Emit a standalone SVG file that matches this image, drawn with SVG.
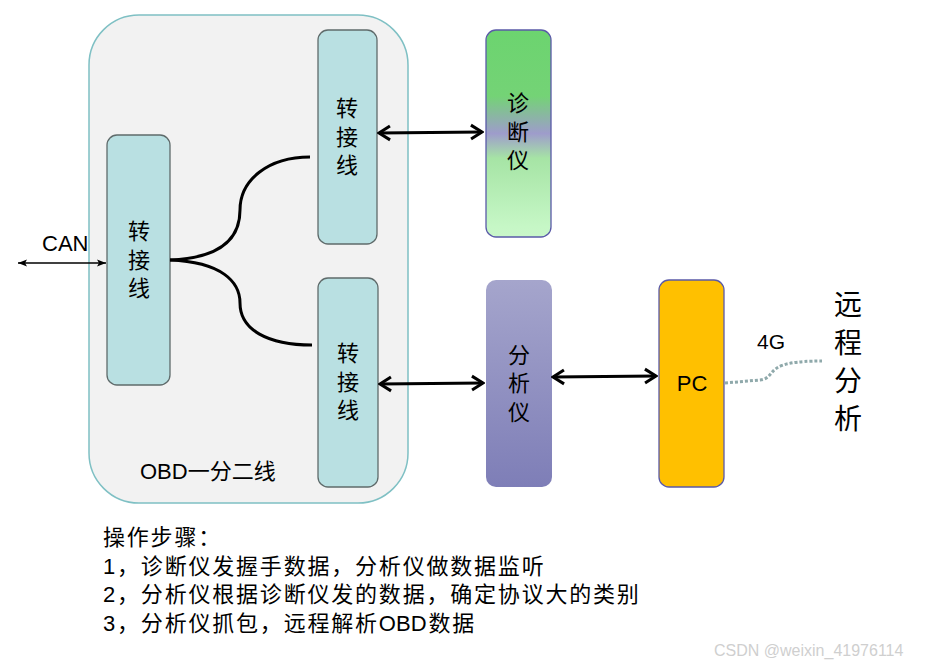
<svg xmlns="http://www.w3.org/2000/svg" width="927" height="666" viewBox="0 0 927 666">
<style>
.cjk{font-family:"Noto Sans CJK SC","Liberation Sans",sans-serif;fill:#000}
.lat{font-family:"Liberation Sans","Noto Sans CJK SC",sans-serif;fill:#000}
.conn{fill:none;stroke:#000;stroke-width:3}
.adapter{fill:#b9e0e2;stroke:#5f6b6b;stroke-width:1.3}
</style>
<defs>
<linearGradient id="gDiag" x1="0" y1="0" x2="0" y2="1">
<stop offset="0" stop-color="#6cd46f"/>
<stop offset="0.32" stop-color="#74d376"/>
<stop offset="0.5" stop-color="#9e9ccb"/>
<stop offset="0.62" stop-color="#a6e4a5"/>
<stop offset="0.95" stop-color="#c6f7c6"/>
<stop offset="1" stop-color="#c9f6c9"/>
</linearGradient>
<linearGradient id="gAna" x1="0" y1="0" x2="0" y2="1">
<stop offset="0" stop-color="#a5a5cc"/>
<stop offset="1" stop-color="#7e7eb7"/>
</linearGradient>
<marker id="chev" markerUnits="userSpaceOnUse" markerWidth="16" markerHeight="18" viewBox="0 0 16 18" refX="14" refY="9" orient="auto-start-reverse">
<path d="M3,2 L14,9 L3,16" fill="none" stroke="#000" stroke-width="3"/>
</marker>
<marker id="tri" markerUnits="userSpaceOnUse" markerWidth="10" markerHeight="8" viewBox="0 0 10 8" refX="9" refY="4" orient="auto-start-reverse">
<path d="M0,0.5 L9,4 L0,7.5 L2,4 Z" fill="#000"/>
</marker>
</defs>
<rect width="927" height="666" fill="#fff"/>

<g id="obd-splitter">
<rect x="89" y="15" width="319" height="488" rx="50" ry="50" fill="#f2f2f2" stroke="#7fc0c4" stroke-width="1.5"/>
<text class="lat" x="140" y="479" font-size="22">OBD<tspan class="cjk">一分二线</tspan></text>
</g>

<g id="adapter-main">
<rect class="adapter" x="107" y="135" width="63" height="250" rx="10"/>
<text class="cjk" font-size="22" text-anchor="middle"><tspan x="139" y="239">转</tspan><tspan x="139" y="268">接</tspan><tspan x="139" y="296">线</tspan></text>
</g>

<g id="adapter-top">
<rect class="adapter" x="318" y="30" width="59" height="214" rx="10"/>
<text class="cjk" font-size="22" text-anchor="middle"><tspan x="347" y="116">转</tspan><tspan x="347" y="145">接</tspan><tspan x="347" y="173">线</tspan></text>
</g>

<g id="adapter-bottom">
<rect class="adapter" x="318" y="278" width="60" height="209" rx="10"/>
<text class="cjk" font-size="22" text-anchor="middle"><tspan x="348" y="361">转</tspan><tspan x="348" y="390">接</tspan><tspan x="348" y="418">线</tspan></text>
</g>

<g id="diagnostic">
<rect x="486" y="30" width="65" height="207" rx="10" fill="url(#gDiag)" stroke="#5a5aa8" stroke-width="1.3"/>
<text class="cjk" font-size="22" text-anchor="middle"><tspan x="518" y="111">诊</tspan><tspan x="518" y="140">断</tspan><tspan x="518" y="168">仪</tspan></text>
</g>

<g id="analyzer">
<rect x="486" y="280" width="66" height="207" rx="10" fill="url(#gAna)"/>
<text class="cjk" font-size="22" text-anchor="middle"><tspan x="519" y="363">分</tspan><tspan x="519" y="391">析</tspan><tspan x="519" y="420">仪</tspan></text>
</g>

<g id="pc">
<rect x="659" y="280" width="65" height="207" rx="10" fill="#ffc000" stroke="#5a5aa8" stroke-width="1.3"/>
<text class="lat" x="692" y="391" font-size="22" text-anchor="middle">PC</text>
</g>

<g id="remote">
<text class="cjk" font-size="28" text-anchor="middle"><tspan x="848" y="315">远</tspan><tspan x="848" y="353">程</tspan><tspan x="848" y="391">分</tspan><tspan x="848" y="429">析</tspan></text>
</g>

<g id="connectors">
<line x1="18" y1="263" x2="106" y2="263" stroke="#000" stroke-width="1.5" marker-start="url(#tri)" marker-end="url(#tri)"/>
<text class="lat" x="42" y="251" font-size="22">CAN</text>
<path class="conn" d="M170,260 C222,258 240,238 240,210 C240,180 268,157 310,157"/>
<path class="conn" d="M170,260 C222,262 240,282 240,303 C240,330 268,345 312,345"/>
<line class="conn" x1="379" y1="133" x2="482" y2="132" marker-start="url(#chev)" marker-end="url(#chev)"/>
<line class="conn" x1="380" y1="384" x2="483" y2="383" marker-start="url(#chev)" marker-end="url(#chev)"/>
<line class="conn" x1="553" y1="377" x2="656" y2="376" marker-start="url(#chev)" marker-end="url(#chev)"/>
<path d="M725,383 L760,380 C770,379 770,372 777,368 C783,364 795,361 822,361" fill="none" stroke="#8fa9ab" stroke-width="3" stroke-dasharray="3 2"/>
<text class="lat" x="757" y="349" font-size="21">4G</text>
</g>

<g id="steps" font-size="22" letter-spacing="1.8">
<text class="cjk" x="103" y="545">操作步骤：</text>
<text class="cjk" x="103" y="574"><tspan class="lat">1</tspan>，诊断仪发握手数据，分析仪做数据监听</text>
<text class="cjk" x="103" y="602"><tspan class="lat">2</tspan>，分析仪根据诊断仪发的数据，确定协议大的类别</text>
<text class="cjk" x="103" y="631"><tspan class="lat">3</tspan>，分析仪抓包，远程解析<tspan class="lat" letter-spacing="0">OBD</tspan><tspan dx="2">数据</tspan></text>
</g>

<text x="714" y="656" font-family="Liberation Sans, sans-serif" font-size="16" fill="#cfcfcf">CSDN @weixin_41976114</text>
</svg>
